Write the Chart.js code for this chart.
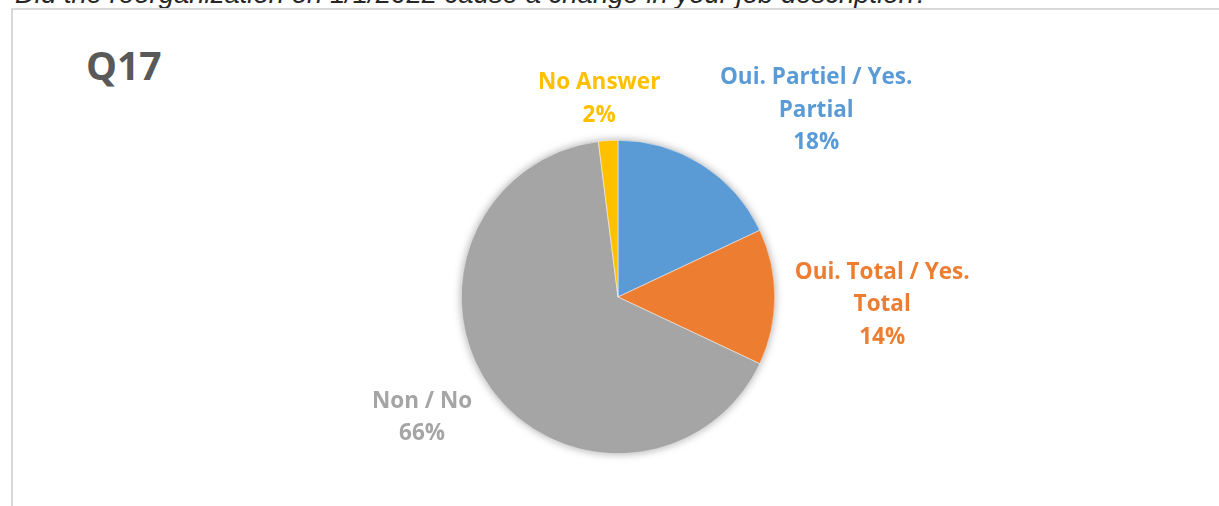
<!DOCTYPE html>
<html>
<head>
<meta charset="utf-8">
<script src="https://cdn.jsdelivr.net/npm/chart.js@4.4.1/dist/chart.umd.min.js"></script>
<style>
  html, body { margin: 0; padding: 0; background: #fff; overflow: hidden; }
  body { width: 1219px; height: 506px; position: relative; }
  #question {
    position: absolute; left: 15px; top: -20px;
    font: italic 27.5px "Liberation Sans", Arial, sans-serif; line-height: 27.5px;
    color: #262626; white-space: nowrap;
  }
  #frame {
    position: absolute; left: 11px; top: 8px; right: -10px; bottom: -10px;
    border-left: 2px solid #d9d9d9; border-top: 2px solid #d9d9d9;
  }
  #q {
    position: absolute; left: 86px; top: 38px;
    font: bold 39px "Open Sans", sans-serif; color: #595959;
  }
  #wrap { position: absolute; left: 0; top: 0; width: 1219px; height: 506px; }
</style>
</head>
<body>
<div id="question">Did the reorganization on 1/1/2022 cause a change in your job description?</div>
<div id="frame"></div>
<div id="q">Q17</div>
<div id="wrap"><canvas id="pieChart"></canvas></div>
<script>
const categories = [
  ['Oui. Partiel / Yes.', 'Partial'],
  ['Oui. Total / Yes.', 'Total'],
  ['Non / No'],
  ['No Answer']
];
const percentages = [18, 14, 66, 2];
const colors = ['#5B9BD5', '#ED7D31', '#A5A5A5', '#FFC000'];

// soft shadow behind the pie, like the Office chart style
const pieShadow = {
  id: 'pieShadow',
  beforeDatasetsDraw(chart) {
    const arc = chart.getDatasetMeta(0).data[0];
    if (!arc) return;
    const ctx = chart.ctx;
    ctx.save();
    ctx.shadowColor = 'rgba(0,0,0,0.35)';
    ctx.shadowBlur = 9;
    ctx.fillStyle = '#a5a5a5';
    ctx.beginPath();
    ctx.arc(arc.x, arc.y, arc.outerRadius, 0, Math.PI * 2);
    ctx.fill();
    ctx.restore();
  }
};

// outside labels: name lines + percent, box placed just outside each slice
const outsideLabels = {
  id: 'outsideLabels',
  afterDatasetsDraw(chart, args, opts) {
    const ctx = chart.ctx;
    const meta = chart.getDatasetMeta(0);
    const lineH = 32.5;
    ctx.save();
    ctx.font = 'bold 22.5px "Open Sans", sans-serif';
    ctx.textAlign = 'center';
    ctx.textBaseline = 'middle';
    meta.data.forEach((arc, i) => {
      const lines = categories[i].concat([percentages[i] + '%']);
      const w = Math.max(...lines.map(l => ctx.measureText(l).width));
      const h = lines.length * lineH;
      const mid = (arc.startAngle + arc.endAngle) / 2;
      const dx = Math.cos(mid), dy = Math.sin(mid);
      const r = arc.outerRadius + 18;
      const nudge = opts.nudge[i] || [0, 0];
      const cx = arc.x + dx * r + dx * w / 2 + nudge[0];
      const cy = arc.y + dy * r + dy * h / 2 + nudge[1];
      ctx.fillStyle = colors[i];
      lines.forEach((l, k) => {
        ctx.fillText(l, cx, cy - h / 2 + lineH * (k + 0.5));
      });
    });
    ctx.restore();
  }
};

new Chart(document.getElementById('pieChart'), {
  type: 'pie',
  data: {
    labels: categories.map(c => c.join(' ')),
    datasets: [{
      data: percentages,
      backgroundColor: colors,
      borderColor: '#ffffff',
      borderWidth: 0.5
    }]
  },
  options: {
    responsive: true,
    maintainAspectRatio: false,
    animation: false,
    layout: { padding: { top: 140, bottom: 52, left: 461, right: 444 } },
    plugins: {
      legend: { display: false },
      tooltip: { enabled: false },
      outsideLabels: { nudge: [[53, 2], [2, 8], [-14, -1], [-4, 9]] }
    }
  },
  plugins: [pieShadow, outsideLabels]
});
</script>
</body>
</html>
